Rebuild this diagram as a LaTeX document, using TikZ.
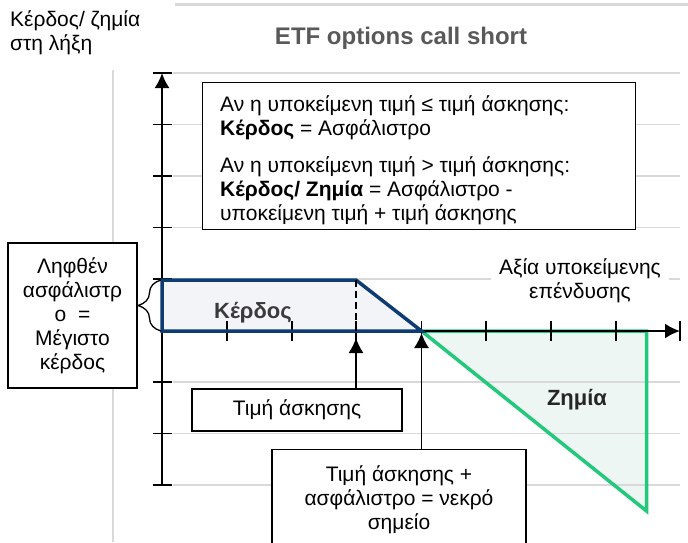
\documentclass[tikz,border=0pt]{standalone}
\usepackage{fontspec}
\setmainfont{Liberation Sans}
\usetikzlibrary{arrows.meta,decorations.pathreplacing}
\definecolor{gridc}{HTML}{D9D9D9}
\definecolor{bluec}{HTML}{0E3B72}
\definecolor{greenc}{HTML}{22C97B}
\definecolor{profitfill}{HTML}{F2F4F8}
\definecolor{lossfill}{HTML}{EDF6F2}
\definecolor{titlec}{HTML}{595959}
\definecolor{labelc}{HTML}{3A3A3A}
\begin{document}
\begin{tikzpicture}[x=1pt,y=-1pt,
  txt/.style={font=\fontsize{21}{24}\selectfont, inner sep=0pt},
  gridline/.style={draw=gridc, line width=1.8pt},
  box/.style={draw=black, line width=1.3pt, fill=white},
  axis/.style={draw=black, line width=1.8pt},
  tickmark/.style={draw=black, line width=1.8pt},
  conn/.style={draw=black, line width=1.5pt, -{Latex[length=15pt,width=15pt]}},
  bold/.style={font=\fontsize{22}{26}\selectfont\bfseries, inner sep=0pt},
]
\useasboundingbox (0,0) rectangle (688,542);
% fills
\fill[profitfill] (162,280) -- (356,280) -- (421.5,331) -- (162,331) -- cycle;
\fill[lossfill] (421.5,331) -- (646.5,331) -- (646.5,511) -- cycle;
% grey rules and grid
\draw[gridline, line width=3pt] (175,4) -- (688,4);
\draw[gridline] (113,70) -- (113,542);
\foreach \y in {73,124.5,176,227.5,279,382,433.5,485}
  \draw[gridline] (173,\y) -- (680,\y);
% title and axis captions
\node[font=\fontsize{24}{28}\selectfont\bfseries, text=titlec] (title) at (401,38) {ETF options call short};
\node[txt, anchor=north west, align=left] (ylab) at (10,10) {Κέρδος/ ζημία\\στη λήξη};
\node[txt, fill=white, align=center, inner xsep=8pt, inner ysep=2pt] (xlab) at (580,280.5) {Αξία υποκείμενης\\επένδυσης};
% boxes
\node[box, minimum width=433pt, minimum height=147pt, anchor=north west] (cond) at (202,82) {};
\node[txt, anchor=west, align=left] (condtext) at (220,160)
  {Αν η υποκείμενη τιμή ≤ τιμή άσκησης:\\
   \textbf{Κέρδος} = Ασφάλιστρο\\[13pt]
   Αν η υποκείμενη τιμή > τιμή άσκησης:\\
   \textbf{Κέρδος/ Ζημία} = Ασφάλιστρο -\\
   υποκείμενη τιμή + τιμή άσκησης};
\node[box, txt, minimum width=129pt, minimum height=145pt, align=center] (prem) at (72.5,315.5)
  {Ληφθέν\\ασφάλιστρ\\ο\ \ =\\Μέγιστο\\κέρδος};
\node[box, txt, minimum width=210pt, minimum height=42pt] (strike) at (297,410) {Τιμή άσκησης};
\node[box, minimum width=254pt, minimum height=130pt, anchor=north] (be) at (399,449) {};
\node[txt, align=center] (betext) at (399,500) {Τιμή άσκησης +\\ασφάλιστρο = νεκρό\\σημείο};
% loss region border
\draw[draw=greenc, line width=3.5pt, line join=miter] (421.5,331) -- (646.5,331) -- (646.5,511) -- cycle;
% axes
\draw[axis, -{Latex[length=15pt,width=15pt]}] (162,485) -- (162,73);
\draw[axis, -{Latex[length=15pt,width=15pt]}] (162,331) -- (680,331);
\foreach \y in {73,124.5,176,227.5,279,382,433.5,485}
  \draw[tickmark] (153,\y) -- (172,\y);
\foreach \x in {227,292,356,421.5,486,551,616,680}
  \draw[tickmark] (\x,321) -- (\x,341);
% profit region border
\draw[draw=bluec, line width=3.5pt, line join=miter] (162,280) -- (356,280) -- (421.5,331) -- (162,331) -- cycle;
\draw[black, line width=2pt, dash pattern=on 7pt off 4pt] (356,280) -- (356,331);
% region labels
\node[bold, text=labelc] (gain) at (253,313) {Κέρδος};
\node[bold, text=black!85] (loss) at (577,400) {Ζημία};
% connectors
\coordinate (Ktip) at (356,338);
\coordinate (BEtip) at (421.5,333);
\draw[conn] (strike.north -| Ktip) -- (Ktip);
\draw[conn] (be.north -| BEtip) -- (BEtip);
% brace
\draw[line width=1.3pt, decorate, decoration={brace, amplitude=23pt}] (161,331) -- (161,280);
\end{tikzpicture}
\end{document}
